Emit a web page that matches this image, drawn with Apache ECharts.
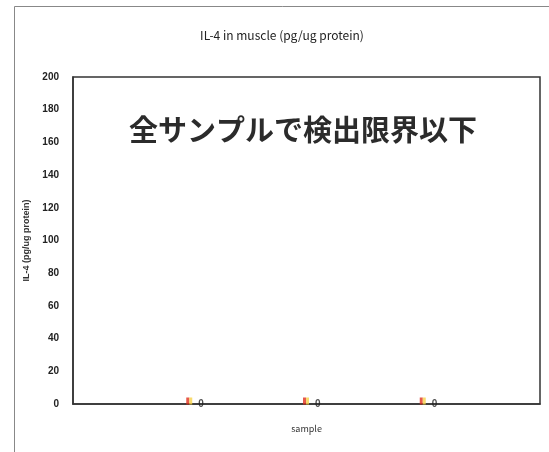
<!DOCTYPE html>
<html>
<head>
<meta charset="utf-8">
<script src="https://cdn.jsdelivr.net/npm/echarts@6/dist/echarts.min.js"></script>
<style>html,body{margin:0;padding:0;background:#fff;}#c{width:549px;height:452px;}</style>
</head>
<body>
<div id="c"></div>
<script>
var titleText = 'IL-4 in muscle (pg/ug protein)';
var yAxisName = 'IL-4 (pg/ug protein)';
var xAxisName = 'sample';
var note = '全サンプルで検出限界以下';
var samplePos = [1, 2, 3];
var values = [0, 0, 0];
var valueLabels = ['0', '0', '0'];

var chart = echarts.init(document.getElementById('c'));
var pts = samplePos.map(function (p, i) { return [p, values[i]]; });
chart.setOption({
  animation: false,
  backgroundColor: '#fff',
  title: {
    text: titleText, left: 277, textAlign: 'center', top: 24,
    textStyle: { fontFamily: 'Noto Sans CJK JP', fontSize: 12, fontWeight: 'normal', color: '#222' }
  },
  grid: { left: 73, right: 9, top: 77, bottom: 48, show: true, borderColor: '#333', borderWidth: 1.5 },
  xAxis: {
    type: 'value', min: 0, max: 4, interval: 1,
    name: xAxisName, nameLocation: 'middle', nameGap: 20,
    nameTextStyle: { fontFamily: 'Noto Sans CJK JP', fontSize: 9, color: '#333' },
    axisLine: { show: true, lineStyle: { color: '#333', width: 1.5 } },
    axisTick: { show: false }, axisLabel: { show: false }, splitLine: { show: false }
  },
  yAxis: {
    type: 'value', min: 0, max: 200, interval: 20,
    name: yAxisName, nameLocation: 'middle', nameGap: 38,
    nameTextStyle: { fontFamily: 'Liberation Sans', fontSize: 9, fontWeight: 'bold', color: '#333' },
    axisLine: { show: true, lineStyle: { color: '#333', width: 1.5 } },
    axisTick: { show: false },
    axisLabel: { fontFamily: 'Liberation Sans', fontSize: 10, fontWeight: 'bold', color: '#222', margin: 14 },
    splitLine: { show: false }
  },
  series: [
    {
      type: 'scatter', data: pts, symbol: 'rect', symbolSize: [3, 7], symbolOffset: [-2, -3],
      itemStyle: { color: '#e0301e' }, z: 3,
      label: { show: true, position: 'right', distance: 9, offset: [0, 3], formatter: function (p) { return valueLabels[p.dataIndex]; },
        fontFamily: 'Liberation Sans', fontSize: 10, fontWeight: 'bold', color: '#222' }
    },
    {
      type: 'scatter', data: pts, symbol: 'rect', symbolSize: [3, 7], symbolOffset: [1, -3],
      itemStyle: { color: '#f7d24a' }, z: 3
    }
  ],
  graphic: [
    { type: 'rect', left: 12, top: 4, shape: { width: 600, height: 500 }, style: { fill: 'none', stroke: '#888', lineWidth: 1 }, silent: true },
    { type: 'text', x: 303, y: 130, style: { text: note, align: 'center', verticalAlign: 'middle', textAlign: 'center', textVerticalAlign: 'middle',
      font: 'bold 29px "Noto Sans CJK JP"', fill: '#2b2b2b' } }
  ]
});
</script>
</body>
</html>
